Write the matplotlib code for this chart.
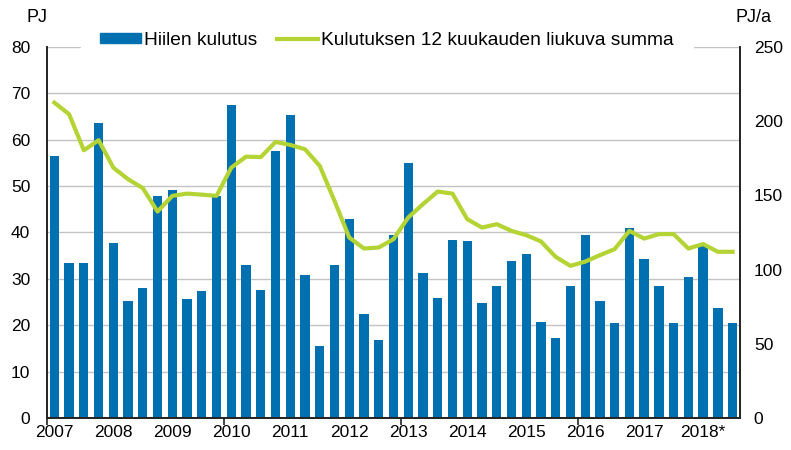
import matplotlib.pyplot as plt
import matplotlib.patches as mpatches
import matplotlib.lines as mlines
import numpy as np

plt.rcParams['font.family'] = ['Liberation Sans', 'DejaVu Sans']

# quarterly coal consumption, PJ (2007 Q1 .. 2018 Q3)
coal = [56.4, 33.5, 33.5, 63.7,
        37.7, 25.3, 28.0, 47.8,
        49.1, 25.6, 27.4, 47.8,
        67.5, 32.9, 27.6, 57.5,
        65.4, 30.8, 15.6, 32.9,
        42.9, 22.5, 16.9, 39.4,
        55.0, 31.2, 25.9, 38.4,
        38.1, 24.9, 28.4, 33.9,
        35.3, 20.8, 17.2, 28.4,
        39.4, 25.3, 20.4, 40.9,
        34.3, 28.4, 20.4, 30.5,
        37.0, 23.8, 20.4]
# 12 month moving sum, PJ/a
moving_sum = [212.5, 204.7, 180.4, 187.2,
              168.7, 160.9, 154.9, 139.1,
              149.7, 151.2, 150.5, 149.7,
              168.7, 176.1, 175.8, 186.0,
              184.0, 181.1, 169.9, 146.3,
              121.6, 114.2, 114.9, 120.5,
              135.1, 144.1, 152.6, 151.2,
              134.0, 128.3, 130.6, 126.1,
              123.2, 119.0, 108.6, 102.5,
              105.4, 109.7, 113.8, 126.1,
              120.9, 123.9, 123.9, 114.2,
              117.2, 112.0, 112.0]
year_labels = ['2007', '2008', '2009', '2010', '2011', '2012', '2013',
               '2014', '2015', '2016', '2017', '2018*']

blue = '#0070b0'
green = '#b4d334'

x = np.arange(len(coal))

fig = plt.figure(figsize=(7.91, 4.5), dpi=100)
ax = fig.add_axes([0.0594, 0.0711, 0.8761, 0.8245])
ax2 = ax.twinx()

ax.bar(x, coal, width=0.63, color=blue, zorder=2)
ax2.plot(x, moving_sum, color=green, lw=3, solid_joinstyle='round', zorder=3)

ax.set_xlim(-0.5, len(coal) - 0.5)
ax.set_ylim(0, 80)
ax2.set_ylim(0, 250)
ax.set_yticks(np.arange(0, 81, 10))
ax2.set_yticks(np.arange(0, 251, 50))
ax.yaxis.grid(True, color='#c3c3c3', lw=1)
ax.set_axisbelow(True)

ax.set_xticks(x[::4])
ax.set_xticklabels(year_labels)
ax.set_xticks(np.arange(-0.5, len(coal), 12), minor=True)
ax.tick_params(axis='x', which='major', length=0, pad=5, labelsize=12.5)
ax.tick_params(axis='x', which='minor', length=5, width=1.2, color='#222222')
ax.tick_params(axis='y', length=0, pad=12, labelsize=12.5)
ax2.tick_params(axis='y', length=0, pad=10, labelsize=12.5)

for a in (ax, ax2):
    a.spines['top'].set_visible(False)
    for s in ('left', 'right', 'bottom'):
        a.spines[s].set_color('#222222')
        a.spines[s].set_linewidth(1.2)

fig.text(0.047, 0.962, 'PJ', fontsize=13, ha='center', va='center')
fig.text(0.953, 0.962, 'PJ/a', fontsize=13, ha='center', va='center')

h1 = mpatches.Patch(color=blue, label='Hiilen kulutus')
h2 = mlines.Line2D([], [], color=green, lw=3, label='Kulutuksen 12 kuukauden liukuva summa')
leg = ax2.legend(handles=[h1, h2], loc='center', bbox_to_anchor=(0.489, 0.911),
                 bbox_transform=fig.transFigure, ncol=2, fontsize=13.8, frameon=True,
                 fancybox=False, edgecolor='white', framealpha=1, handlelength=2.15,
                 handleheight=0.42, handletextpad=0.15, columnspacing=1.0,
                 borderpad=1.0, borderaxespad=0)

fig.savefig('out.png', dpi=100)
